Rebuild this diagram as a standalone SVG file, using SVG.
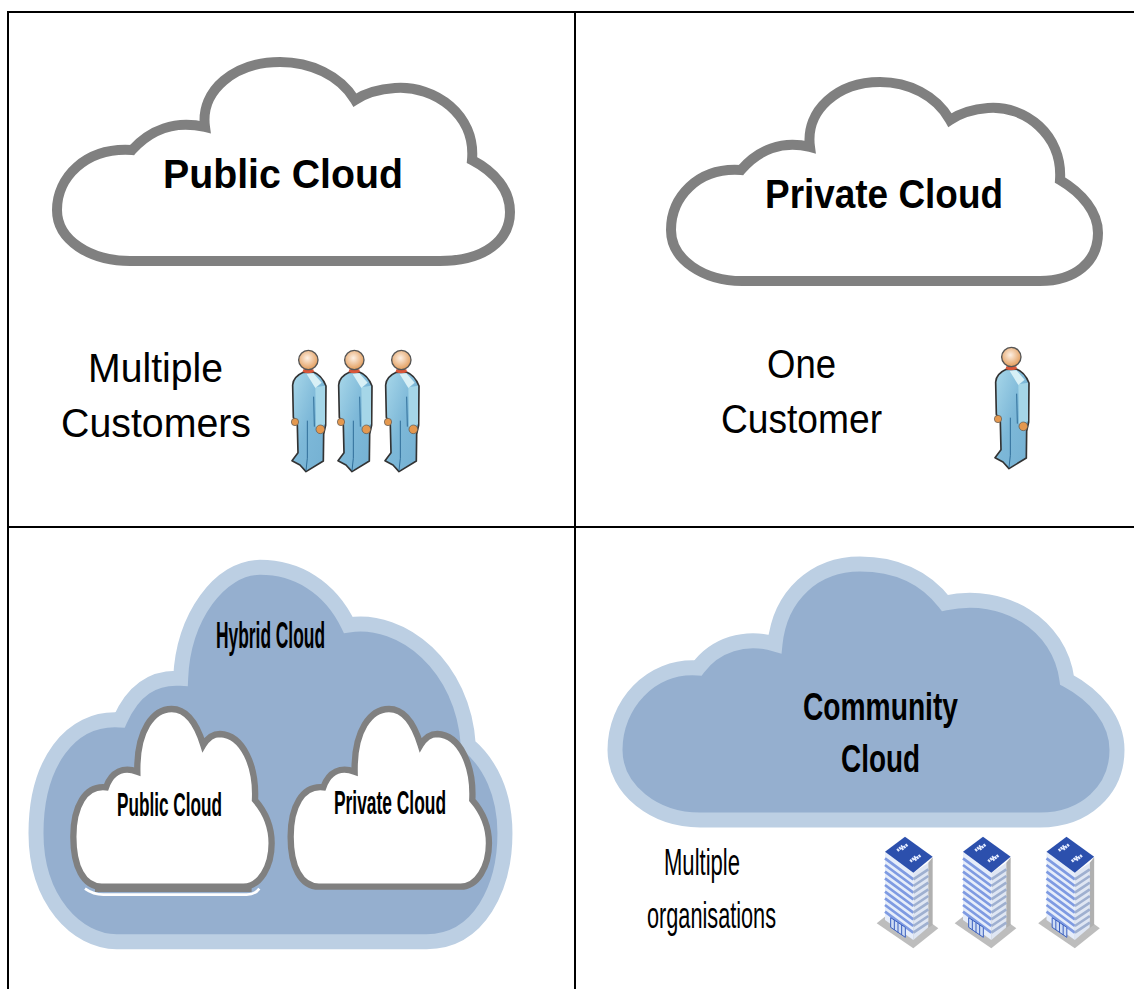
<svg xmlns="http://www.w3.org/2000/svg" width="1134" height="989" viewBox="0 0 1134 989">
<style>
text{font-family:"Liberation Sans",Arial,sans-serif;fill:#000}
.b{font-weight:700}
.grid{stroke:#000;stroke-width:2;fill:none}
.white{fill:#fff;stroke:#808080;stroke-width:10;stroke-linejoin:miter}
.blue{fill:#95afcf;stroke:#bccfe3;stroke-width:15}
.small{fill:#fff;stroke:#808080;stroke-width:19}
.skin{fill:url(#skin);stroke:#555;stroke-width:4}
</style>
<defs>
<radialGradient id="skin" cx=".45" cy=".4" r=".65"><stop offset="0" stop-color="#fdf0e4"/><stop offset="1" stop-color="#e0954f"/></radialGradient>
<linearGradient id="suit" x1="0" y1="0" x2="1" y2="1"><stop offset="0" stop-color="#a9d8ea"/><stop offset=".5" stop-color="#7db8d8"/><stop offset="1" stop-color="#74b0d2"/></linearGradient>
<g id="person">
<path d="M68 165Q70 140 100 127L130 126Q155 135 168 168L167 285L161 312L160 393L108 425L90 405L66 392L84 368L82 285L70 262Z" fill="url(#suit)" stroke="#333" stroke-width="5" stroke-linejoin="round"/>
<path d="M136 172L165 167V283L138 292Z" fill="#a5d6e8"/>
<path d="M110 132L130 130L155 158L136 174Z" fill="#d8f0f6"/>
<path d="M131 200L133 290M112 272L112 385M108 422L112 385" stroke="#2f6d99" stroke-width="3" fill="none"/>
<path d="M98 126Q115 133 132 126L130 118H100Z" fill="#d9573a"/>
<circle cx="115" cy="90" r="29" class="skin"/>
<circle cx="75" cy="276" r="11" fill="#e4984f" stroke="#555" stroke-width="2"/>
<circle cx="151" cy="298" r="13" fill="#e4984f" stroke="#555" stroke-width="2"/>
</g>
<g id="building">
<path d="M50 310L160 385L235 325L190 292L100 270Z" fill="#bdbdbd"/>
<path d="M75 95L160 158V360L75 300Z" fill="#e6edfa"/>
<path d="M160 158L205 128V322L160 360Z" fill="#dfe6f3"/>
<path d="M205 128L218 112V314L205 324Z" fill="#b0b0b0"/>
<path d="M75 115L160 178M75 135L160 198M75 155L160 218M75 175L160 238M75 195L160 258M75 215L160 278M75 235L160 298M75 255L160 318M75 275L160 338" stroke="#7f9be2" stroke-width="8" fill="none"/>
<path d="M160 178L205 148M160 198L205 168M160 218L205 188M160 238L205 208M160 258L205 228M160 278L205 248M160 298L205 268M160 318L205 288M160 338L205 308" stroke="#9fb0d0" stroke-width="8" fill="none"/>
<path d="M135 50L218 110L160 158L75 95Z" fill="#2c50ad"/>
<path d="M92 293L136 322V352L92 322Z" fill="#cfdcf4" stroke="#3a5fc0" stroke-width="3"/>
<path d="M103 300V330M114 308V338M125 315V345" stroke="#3a5fc0" stroke-width="3"/>
<path d="M112 92L128 78M125 88L142 74M151 124L167 110M164 120L181 106" stroke="#e6edff" stroke-width="9" stroke-dasharray="6 2"/>
</g>
<path id="smallcloud" d="M245 1010H670C720 1010 755 950 755 880C755 830 740 790 705 750C710 650 670 555 600 552C580 552 565 560 550 585C530 520 500 477 455 477C400 477 350 540 352 665C310 650 275 665 258 712C195 705 160 770 160 860C160 950 190 1010 245 1010Z"/>
</defs>
<g id="grid" class="grid">
<path d="M8 989V12H1134M575 12V989M8 527H1134"/>
</g>
<g id="public-cloud">
<path class="white" d="M130 261H440C485 261 510 240 510 212C510 190 495 172 472 160C476 115 435 85 395 88C380 89 367 92 355 100C340 75 310 62 280 62C235 62 200 90 205 127C175 120 150 130 132 150C85 147 57 178 57 210C57 240 90 261 130 261Z"/>
<text class="b" x="163" y="188" font-size="41" textLength="240" lengthAdjust="spacingAndGlyphs">Public Cloud</text>
</g>
<g id="multiple-customers">
<text x="88" y="382" font-size="41" textLength="135" lengthAdjust="spacingAndGlyphs">Multiple</text>
<text x="61" y="437" font-size="41" textLength="190" lengthAdjust="spacingAndGlyphs">Customers</text>
<use href="#person" transform="translate(270 330) scale(.3333)"/>
<use href="#person" transform="translate(316 330) scale(.3333)"/>
<use href="#person" transform="translate(363 330) scale(.3333)"/>
</g>
<g id="private-cloud">
<path class="white" d="M742 281H1040C1075 281 1098 262 1098 233C1098 212 1082 193 1060 180C1063 135 1025 105 988 108C975 109 962 112 950 120C936 95 908 82 880 82C838 82 805 110 810 147C782 140 758 150 741 170C697 167 671 198 671 230C671 260 704 281 742 281Z"/>
<text class="b" x="765" y="208" font-size="41" textLength="238" lengthAdjust="spacingAndGlyphs">Private Cloud</text>
</g>
<g id="one-customer">
<text x="767" y="378" font-size="41" textLength="69" lengthAdjust="spacingAndGlyphs">One</text>
<text x="721" y="433" font-size="41" textLength="161" lengthAdjust="spacingAndGlyphs">Customer</text>
<use href="#person" transform="translate(973 327) scale(.3333)"/>
</g>
<g id="hybrid-cloud">
<path class="blue" transform="translate(20 550) scale(.3333)" style="stroke-width:45" d="M290 1175H1220C1380 1175 1455 1010 1455 850C1455 730 1410 640 1345 585C1330 350 1150 200 985 225C930 110 830 52 720 52C600 52 490 200 482 385C400 380 340 420 300 510C150 500 48 640 48 850C48 1050 170 1175 290 1175Z"/>
<text x="216" y="648" font-size="37" class="b" textLength="109" lengthAdjust="spacingAndGlyphs">Hybrid Cloud</text>
<g id="hybrid-public" transform="translate(20 550) scale(.3333)">
<path d="M195 1016Q220 1034 250 1034H680Q705 1034 718 1016" fill="none" stroke="#fff" stroke-width="8"/>
<use href="#smallcloud" class="small"/>
<path d="M225 1014H695" stroke="#808080" stroke-width="24"/>
</g>
<text x="117" y="816" font-size="33" class="b" textLength="105" lengthAdjust="spacingAndGlyphs">Public Cloud</text>
<g id="hybrid-private" transform="translate(20 550) scale(.3333)">
<use href="#smallcloud" class="small" transform="translate(652 0)"/>
</g>
<text x="334" y="814" font-size="33" class="b" textLength="112" lengthAdjust="spacingAndGlyphs">Private Cloud</text>
</g>
<g id="community-cloud">
<path class="blue" d="M700 820H1040C1085 820 1117 790 1117 750C1117 720 1095 695 1067 680C1060 625 1005 590 945 603C925 577 895 564 860 564C815 564 780 595 775 644C745 635 715 645 698 668C650 665 615 705 615 750C615 790 655 820 700 820Z"/>
<text class="b" x="803" y="720" font-size="39" textLength="155" lengthAdjust="spacingAndGlyphs">Community</text>
<text class="b" x="841" y="772" font-size="39" textLength="79" lengthAdjust="spacingAndGlyphs">Cloud</text>
</g>
<g id="multiple-organisations">
<text x="664" y="875" font-size="36" textLength="76" lengthAdjust="spacingAndGlyphs">Multiple</text>
<text x="647" y="928" font-size="36" textLength="129" lengthAdjust="spacingAndGlyphs">organisations</text>
<use href="#building" transform="translate(860 820) scale(.3333)"/>
<use href="#building" transform="translate(938 820) scale(.3333)"/>
<use href="#building" transform="translate(1021.5 820) scale(.3333)"/>
</g>
</svg>
